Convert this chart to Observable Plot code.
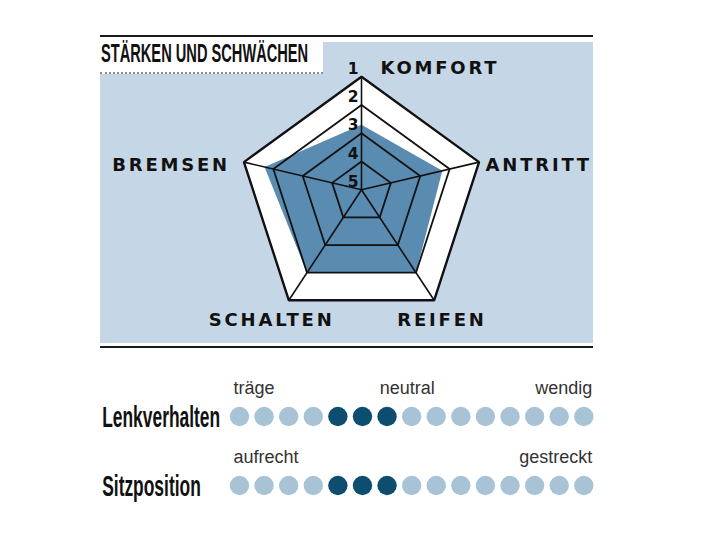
<!DOCTYPE html>
<html><head><meta charset="utf-8">
<script src="https://cdn.jsdelivr.net/npm/d3@7"></script>
<script src="https://cdn.jsdelivr.net/npm/@observablehq/plot@0.6"></script>
<style>
body{margin:0;background:#fff;width:712px;height:533px;position:relative;overflow:hidden;font-family:"Liberation Sans",sans-serif}
.abs{position:absolute}
#rule1{left:100px;top:34.5px;width:493px;height:2.5px;background:#1a1a1a}
#rule2{left:100px;top:345.5px;width:493px;height:2.5px;background:#1a1a1a}
#radar{left:100px;top:42px;width:493px;height:301px}
#titlebox{left:100px;top:42px;width:223px;height:30px;background:#fff;border-bottom:2px dotted #8c8c8c}
#title{left:101px;top:40.6px;font:bold 25px/25px "Liberation Sans",sans-serif;transform:scaleX(0.585);transform-origin:0 0;white-space:nowrap;color:#111}
#dots{left:90px;top:360px;width:520px;height:150px}
svg{overflow:visible}
</style></head><body>
<div id="rule1" class="abs"></div>
<div id="radar" class="abs"></div>
<div id="titlebox" class="abs"></div>
<div id="title" class="abs"></div>
<div id="rule2" class="abs"></div>
<div id="dots" class="abs"></div>
<script>
// ---------- data ----------
const chartTitle = "STÄRKEN UND SCHWÄCHEN";
const criteria = ["KOMFORT", "ANTRITT", "REIFEN", "SCHALTEN", "BREMSEN"];
const ratings = [2.7, 2.25, 2.0, 2.0, 1.7];          // 1 = best (outer), 5 = centre
const gradeLevels = [1, 2, 3, 4, 5];
const rowNames = ["Lenkverhalten", "Sitzposition"];
const dotSteps = [0,1,2,3,4,5,6,7,8,9,10,11,12,13,14];
const lenkverhaltenMarked = [4, 5, 6];
const sitzpositionMarked = [4, 5, 6];
const lenkverhaltenEnds = ["träge", "neutral", "wendig"];
const sitzpositionEnds = ["aufrecht", "gestreckt"];

// ---------- colours ----------
const panelBlue = "#c5d7e6", dataBlue = "#5a8cb1", dotLight = "#a8c2d6", dotDark = "#0c4d70", ink = "#111";

document.getElementById("title").textContent = chartTitle;

// ---------- radar geometry (slight perspective tilt of the drawing) ----------
const tilt = 0.085;
const radius = v => 5 - v;
const polar = (r, i) => {
  const a = i * 2 * Math.PI / criteria.length;
  return {x: r * Math.sin(a), y: r * Math.cos(a) - tilt * r};
};
const ringData = gradeLevels.filter(g => g < 5).flatMap(g => criteria.map((c, i) => ({grade: g, ...polar(radius(g), i)})));
const outerData = criteria.map((c, i) => ({criterion: c, ...polar(radius(1), i)}));
const valueData = ratings.map((v, i) => polar(radius(v), i));
const gradeData = gradeLevels.map(g => ({label: String(g), ...polar(radius(g), 0)}));

const W = 493, H = 301, cx = 261, cy = 147.3, u = 30.9;
const labelStyle = {fontFamily: "DejaVu Sans", fontWeight: "bold", fontSize: 18, fill: ink, lineAnchor: "bottom"};
const placement = {
  KOMFORT:  {textAnchor: "start",  dx: 19,    dy: -2.9},
  ANTRITT:  {textAnchor: "start",  dx: 6.5,   dy: 9.1},
  REIFEN:   {textAnchor: "middle", dx: 7.8,   dy: 25.2},
  SCHALTEN: {textAnchor: "middle", dx: -17.2, dy: 25.2},
  BREMSEN:  {textAnchor: "end",    dx: -14,   dy: 8.4}
};

const radar = Plot.plot({
  width: W, height: H, margin: 0,
  x: {domain: [-cx / u, (W - cx) / u], range: [0, W], axis: null},
  y: {domain: [-(H - cy) / u, cy / u], range: [H, 0], axis: null},
  style: {background: panelBlue, overflow: "visible"},
  marks: [
    Plot.line(outerData, {x: "x", y: "y", curve: "linear-closed", fill: "#fff", stroke: "none"}),
    Plot.line(valueData, {x: "x", y: "y", curve: "linear-closed", fill: dataBlue, stroke: "none"}),
    Plot.line(ringData, {x: "x", y: "y", z: "grade", curve: "linear-closed", stroke: ink,
      strokeWidth: d => d.grade === 1 ? 2.4 : 1.8, strokeLinejoin: "miter"}),
    Plot.link(outerData, {x1: () => 0, y1: () => 0, x2: "x", y2: "y", stroke: ink, strokeWidth: 1.6}),
    Plot.text(gradeData, {x: "x", y: "y", text: "label", textAnchor: "end", dx: -3, dy: -3,
      lineAnchor: "bottom", fontFamily: "DejaVu Sans", fontWeight: "bold", fontSize: 15.5, fill: ink}),
    ...criteria.map(c => Plot.text(outerData.filter(d => d.criterion === c),
      {x: "x", y: "y", text: "criterion", ...labelStyle, ...placement[c]}))
  ]
});
radar.querySelectorAll("text").forEach(t => {
  if (criteria.includes(t.textContent)) t.style.letterSpacing = "2.8px";
});
document.getElementById("radar").appendChild(radar);

// ---------- dot scales ----------
const marked = {Lenkverhalten: lenkverhaltenMarked, Sitzposition: sitzpositionMarked};
const dotData = rowNames.flatMap(row => dotSteps.map(i => ({row, i, on: marked[row].includes(i)})));
const endLabels = [
  {row: "Lenkverhalten", i: dotSteps[0], text: lenkverhaltenEnds[0], pos: "start"},
  {row: "Lenkverhalten", i: dotSteps[7], text: lenkverhaltenEnds[1], pos: "middle"},
  {row: "Lenkverhalten", i: dotSteps[14], text: lenkverhaltenEnds[2], pos: "end"},
  {row: "Sitzposition", i: dotSteps[0], text: sitzpositionEnds[0], pos: "start"},
  {row: "Sitzposition", i: dotSteps[14], text: sitzpositionEnds[1], pos: "end"}
];
const endStyle = {x: "i", y: "row", text: "text", lineAnchor: "bottom", dy: -22.7,
  fontFamily: "Liberation Sans", fontSize: 18, fill: "#333"};

const dots = Plot.plot({
  width: 520, height: 150, margin: 0,
  x: {domain: [0, 14], range: [149, 493.3], axis: null},
  y: {type: "point", domain: rowNames, range: [55.3, 125], padding: 0, axis: null},
  style: {overflow: "visible"},
  marks: [
    Plot.dot(dotData.filter(d => !d.on), {x: "i", y: "row", r: 9.7, fill: dotLight}),
    Plot.dot(dotData.filter(d => d.on), {x: "i", y: "row", r: 9.7, fill: dotDark}),
    Plot.text(rowNames, {y: d => d, text: d => d, frameAnchor: "left", textAnchor: "start", dx: 11.7, dy: 10.5,
      lineAnchor: "bottom", fontFamily: "Liberation Sans", fontWeight: "bold", fontSize: 29.5, fill: ink}),
    Plot.text(endLabels.filter(d => d.pos === "start"), {...endStyle, textAnchor: "start", dx: -6}),
    Plot.text(endLabels.filter(d => d.pos === "middle"), {...endStyle, textAnchor: "middle", dx: -4.5}),
    Plot.text(endLabels.filter(d => d.pos === "end"), {...endStyle, textAnchor: "end", dx: 8.4})
  ]
});
dots.querySelectorAll("text").forEach(t => {
  if (rowNames.includes(t.textContent)) {
    const tr = t.getAttribute("transform");
    if (tr) t.setAttribute("transform", tr + " scale(0.59,1)");
    else {
      const x = +(t.getAttribute("x") || 0);
      t.setAttribute("transform", `translate(${x},0) scale(0.59,1) translate(${-x},0)`);
    }
  }
});
document.getElementById("dots").appendChild(dots);
</script>
</body></html>
